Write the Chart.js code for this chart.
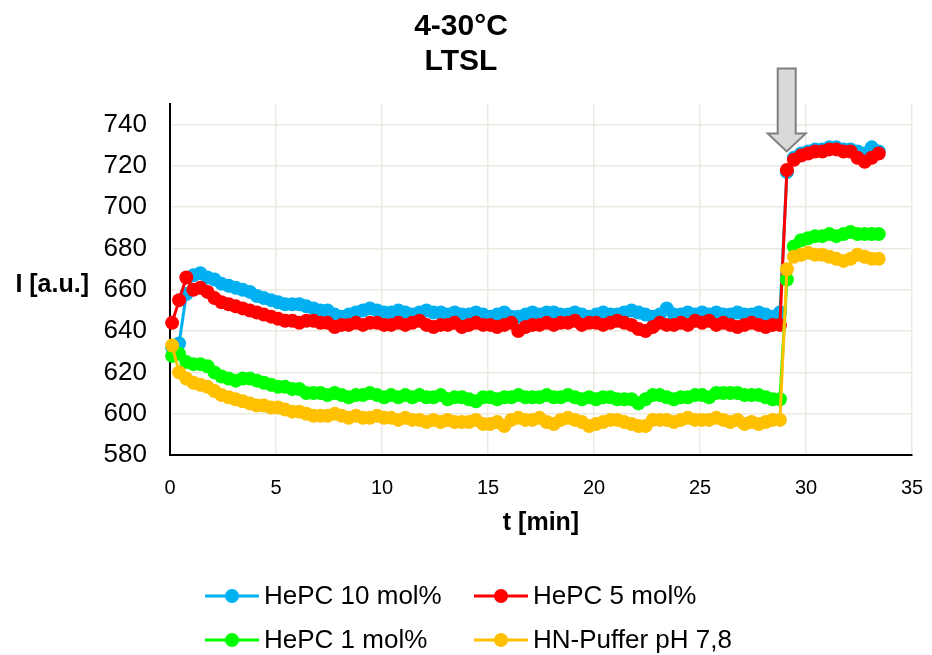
<!DOCTYPE html>
<html><head><meta charset="utf-8">
<script src="https://cdn.jsdelivr.net/npm/chart.js@4/dist/chart.umd.min.js"></script>
<style>html,body{margin:0;padding:0;background:#fff}#wrap{width:932px;height:655px;position:relative}</style>
</head><body><div id="wrap"><canvas id="c" width="932" height="655"></canvas></div>
<script>
const FONT = '"Liberation Sans", Arial, sans-serif';

const times = [
 0.1, 0.43, 0.77, 1.1, 1.43, 1.77, 2.1, 2.43, 2.77, 3.1,
 3.43, 3.77, 4.1, 4.43, 4.77, 5.1, 5.43, 5.77, 6.1, 6.43,
 6.77, 7.1, 7.43, 7.77, 8.1, 8.43, 8.77, 9.1, 9.43, 9.77,
 10.1, 10.43, 10.77, 11.1, 11.43, 11.77, 12.1, 12.43, 12.77, 13.1,
 13.43, 13.77, 14.1, 14.43, 14.77, 15.1, 15.43, 15.77, 16.1, 16.43,
 16.77, 17.1, 17.43, 17.77, 18.1, 18.43, 18.77, 19.1, 19.43, 19.77,
 20.1, 20.43, 20.77, 21.1, 21.43, 21.77, 22.1, 22.43, 22.77, 23.1,
 23.43, 23.77, 24.1, 24.43, 24.77, 25.1, 25.43, 25.77, 26.1, 26.43,
 26.77, 27.1, 27.43, 27.77, 28.1, 28.43, 28.77, 29.1, 29.43, 29.77,
 30.1, 30.43, 30.77, 31.1, 31.43, 31.77, 32.1, 32.43, 32.77, 33.1,
 33.43
];

const hepc10 = [
 632, 634, 658, 667, 668, 666, 665, 663, 662, 661,
 660, 659, 657, 656, 655, 654, 653, 653, 653, 652,
 651, 650, 650, 648, 647, 648, 649, 650, 651, 650,
 649, 649, 650, 649, 648, 649, 650, 649, 649, 648,
 649, 648, 648, 649, 648, 647, 648, 649, 647, 647,
 648, 649, 648, 649, 649, 648, 648, 649, 648, 647,
 648, 649, 648, 648, 649, 650, 649, 648, 647, 648,
 651, 648, 648, 649, 648, 649, 648, 649, 648, 648,
 649, 648, 648, 649, 648, 647, 649, 717, 724, 726,
 727, 728, 728, 729, 729, 728, 728, 727, 726, 729,
 727
];

const hepc5 = [
 644, 655, 666, 660, 661, 659, 656, 654, 653, 652,
 651, 650, 649, 648, 647, 646, 645, 645, 644, 645,
 645, 644, 644, 642, 643, 643, 644, 643, 644, 644,
 643, 643, 644, 643, 644, 645, 643, 642, 643, 643,
 644, 642, 643, 644, 643, 643, 642, 643, 644, 640,
 642, 643, 643, 644, 643, 644, 644, 645, 643, 644,
 644, 643, 644, 645, 644, 643, 641, 640, 642, 644,
 643, 643, 644, 643, 645, 644, 645, 643, 644, 643,
 642, 643, 644, 643, 642, 643, 643, 718, 723, 725,
 726, 727, 727, 728, 728, 727, 727, 724, 722, 724,
 726
];

const hepc1 = [
 628, 629, 625, 624, 624, 623, 620, 618, 617, 616,
 617, 617, 616, 615, 614, 613, 613, 612, 612, 610,
 610, 610, 609, 610, 609, 608, 609, 609, 610, 609,
 608, 609, 608, 609, 608, 609, 608, 608, 609, 607,
 608, 608, 607, 606, 608, 608, 607, 608, 608, 609,
 608, 608, 608, 609, 608, 608, 609, 608, 607, 608,
 607, 608, 608, 607, 607, 607, 605, 607, 609, 609,
 608, 607, 608, 608, 609, 609, 608, 610, 610, 610,
 610, 609, 609, 609, 608, 607, 607, 665, 681, 684,
 685, 686, 686, 687, 686, 687, 688, 687, 687, 687,
 687
];

const hnPuffer = [
 633, 620, 617, 615, 614, 613, 611, 609, 608, 607,
 606, 605, 604, 604, 603, 603, 602, 601, 601, 600,
 599, 599, 599, 600, 599, 598, 599, 598, 598, 599,
 598, 598, 597, 598, 597, 597, 596, 597, 596, 597,
 596, 596, 596, 597, 595, 595, 596, 594, 597, 598,
 597, 597, 598, 596, 595, 597, 598, 597, 596, 594,
 595, 596, 597, 597, 596, 595, 594, 594, 597, 597,
 597, 596, 597, 598, 597, 597, 597, 598, 597, 596,
 597, 595, 596, 595, 596, 597, 597, 670, 676, 677,
 678, 677, 677, 676, 675, 674, 675, 677, 676, 675,
 675
];

const seriesNames = ['HePC 10 mol%', 'HePC 5 mol%', 'HePC 1 mol%', 'HN-Puffer pH 7,8'];
const seriesValues = [hepc10, hepc5, hepc1, hnPuffer];
const seriesColors = ['#00B0F0', '#FF0000', '#00FF00', '#FFC000'];
const xTicks = [0, 5, 10, 15, 20, 25, 30, 35];
const yTicks = [580, 600, 620, 640, 660, 680, 700, 720, 740];
const titleLines = ['4-30°C', 'LTSL'];
const xTitle = 't [min]';
const yTitle = 'I [a.u.]';
const arrowTip = [29.09, 727];

const datasets = seriesValues.map((vals, i) => ({
  label: seriesNames[i],
  data: vals.map((v, k) => ({x: times[k], y: v})),
  borderColor: seriesColors[i],
  backgroundColor: seriesColors[i],
  borderWidth: 3,
  pointRadius: 7,
  pointHoverRadius: 7,
  pointBorderWidth: 0,
  tension: 0,
  clip: false,
  order: seriesValues.length - i
}));

const decor = {
  id: 'decor',
  afterDatasetsDraw(chart) {
    const ctx = chart.ctx, xs = chart.scales.x, ys = chart.scales.y;
    const tx = xs.getPixelForValue(arrowTip[0]), ty = ys.getPixelForValue(arrowTip[1]);
    ctx.save();
    ctx.beginPath();
    ctx.moveTo(tx - 9, ty - 83);
    ctx.lineTo(tx + 9, ty - 83);
    ctx.lineTo(tx + 9, ty - 18);
    ctx.lineTo(tx + 19, ty - 18);
    ctx.lineTo(tx, ty);
    ctx.lineTo(tx - 19, ty - 18);
    ctx.lineTo(tx - 9, ty - 18);
    ctx.closePath();
    ctx.fillStyle = '#D9D9D9';
    ctx.fill();
    ctx.strokeStyle = '#7F7F7F';
    ctx.lineWidth = 2;
    ctx.stroke();
    ctx.restore();
  },
  afterDraw(chart) {
    const ctx = chart.ctx, area = chart.chartArea;
    ctx.save();
    ctx.fillStyle = '#000';
    ctx.textBaseline = 'middle';
    ctx.font = 'bold 30px ' + FONT;
    ctx.textAlign = 'center';
    ctx.fillText(titleLines[0], 461, 27);
    ctx.fillText(titleLines[1], 461, 62);
    ctx.font = 'bold 25px ' + FONT;
    ctx.fillText(xTitle, (area.left + area.right) / 2, 523);
    ctx.textAlign = 'right';
    ctx.fillText(yTitle, 89, 285);
    const pos = [[205, 596], [474, 596], [205, 640], [474, 640]];
    ctx.font = '26px ' + FONT;
    ctx.textAlign = 'left';
    seriesNames.forEach((name, i) => {
      const [lx, ly] = pos[i];
      ctx.strokeStyle = seriesColors[i];
      ctx.lineWidth = 3;
      ctx.beginPath();
      ctx.moveTo(lx, ly);
      ctx.lineTo(lx + 54, ly);
      ctx.stroke();
      ctx.fillStyle = seriesColors[i];
      ctx.beginPath();
      ctx.arc(lx + 27, ly, 7, 0, Math.PI * 2);
      ctx.fill();
      ctx.fillStyle = '#000';
      ctx.fillText(name, lx + 59, ly + 1);
    });
    ctx.restore();
  }
};

new Chart(document.getElementById('c'), {
  type: 'line',
  data: {datasets},
  options: {
    responsive: false,
    animation: false,
    devicePixelRatio: 1,
    events: [],
    layout: {padding: {top: 104, right: 20, bottom: 0, left: 0}},
    plugins: {legend: {display: false}, title: {display: false}, tooltip: {enabled: false}},
    scales: {
      x: {
        type: 'linear', min: 0, max: 35,
        afterBuildTicks: s => { s.ticks = xTicks.map(v => ({value: v})); },
        afterFit: s => { s.height = 200; s.paddingLeft = 0; s.paddingRight = 0; },
        ticks: {color: '#000', font: {family: FONT, size: 20}, padding: 21, maxRotation: 0, autoSkip: false},
        grid: {color: '#ECE9E0', lineWidth: 1.5, drawTicks: false},
        border: {color: '#000', width: 2}
      },
      y: {
        type: 'linear', min: 580, max: 750,
        afterBuildTicks: s => { s.ticks = yTicks.map(v => ({value: v})); },
        afterFit: s => { s.width = 170; },
        ticks: {color: '#000', font: {family: FONT, size: 26}, padding: 23},
        grid: {color: '#ECE9E0', lineWidth: 1.5, drawTicks: false},
        border: {color: '#000', width: 2}
      }
    }
  },
  plugins: [decor]
});
</script>
</body></html>
